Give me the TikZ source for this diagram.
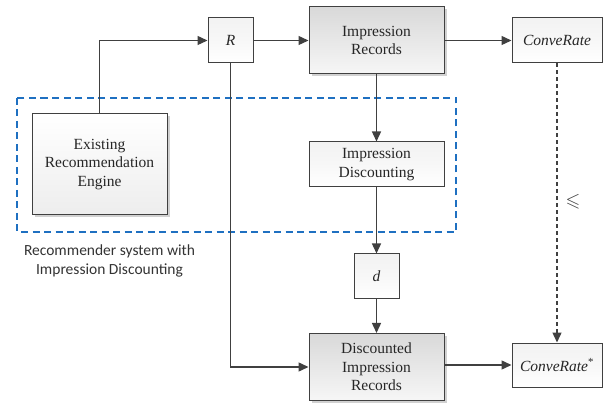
\documentclass[tikz,border=0pt]{standalone}
\usepackage{amssymb}
\usepackage{fontspec}
\setmainfont{Liberation Serif}
\newfontfamily\calfont{Carlito}
\usetikzlibrary{arrows.meta,shadows}
\definecolor{linec}{RGB}{64,64,64}
\definecolor{dashblue}{RGB}{31,112,193}
\tikzset{
  box/.style={draw=linec, line width=1pt, inner sep=0pt, align=center,
    font=\fontsize{15.5}{18.5}\selectfont, text=black!85},
  smallbox/.style={box, top color=gray!10, bottom color=white, middle color=gray!6},
  bigbox/.style={box, top color=gray!30, bottom color=gray!7,
    drop shadow={shadow xshift=2.5pt, shadow yshift=-2.5pt, fill=gray!45, opacity=0.8}},
  engbox/.style={box, top color=white, bottom color=gray!14,
    drop shadow={shadow xshift=2.5pt, shadow yshift=-2.5pt, fill=gray!45, opacity=0.8}},
  arr/.style={draw=linec, line width=1.4pt, -{Triangle[length=10pt,width=9pt]}},
}
\begin{document}
\begin{tikzpicture}[x=1pt,y=-1pt]
\useasboundingbox (0,0) rectangle (605,403);
\draw[dashblue, line width=2pt, dash pattern=on 7pt off 4.5pt] (17,98) rectangle (456,232);
\node[smallbox, minimum width=45pt, minimum height=45pt] (R) at (230.5,40.5) {\textit{R}};
\node[bigbox, minimum width=135pt, minimum height=67pt] (IR) at (376.5,40.5) {Impression\\Records};
\node[smallbox, minimum width=90pt, minimum height=45pt] (CR) at (557,40.5) {\textit{ConveRate}};
\node[engbox, minimum width=135pt, minimum height=101pt] (ENG) at (99.5,164.5) {Existing\\Recommendation\\Engine};
\node[smallbox, minimum width=135pt, minimum height=45pt] (ID) at (376.5,164.5) {Impression\\Discounting};
\node[smallbox, minimum width=45pt, minimum height=45pt] (d) at (376.5,276.5) {\textit{d}};
\node[bigbox, minimum width=135pt, minimum height=67pt] (DIR) at (376.5,367) {Discounted\\Impression\\Records};
\node[smallbox, minimum width=90pt, minimum height=44pt] (CR2) at (557,365) {\textit{ConveRate}\textsuperscript{*}};
\node[align=center, font=\calfont\fontsize{15.5}{19}\selectfont, text=black!80] (lab) at (109.5,260.5) {Recommender system with\\Impression Discounting};
\node[font=\fontsize{19}{22}\selectfont, text=black!75] (le) at (573,202) {$\leqslant$};
\draw[arr] (ENG.north) |- (R.west);
\draw[arr] (R) -- (IR);
\draw[arr] (IR) -- (CR);
\draw[arr] (IR) -- (ID);
\draw[arr] (ID) -- (d);
\draw[arr] (d) -- (DIR);
\draw[arr] (R.south) |- (DIR.west);
\draw[arr] (DIR.east |- CR2.west) -- (CR2.west);
\draw[arr, dash pattern=on 4pt off 3pt] (CR) -- (CR2);
\end{tikzpicture}
\end{document}
